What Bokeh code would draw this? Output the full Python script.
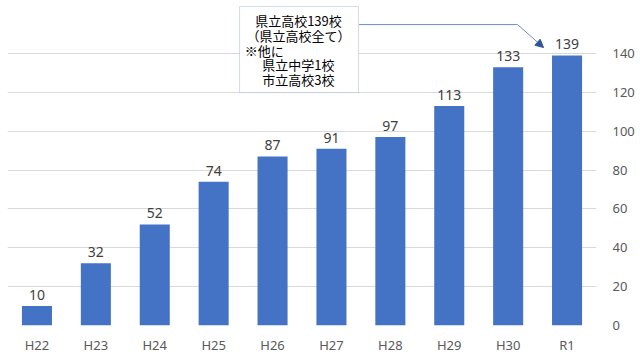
from bokeh.plotting import figure
from bokeh.models import (ColumnDataSource, Range1d, FixedTicker,
                          Label, Arrow, NormalHead, BoxAnnotation)
from bokeh.core.properties import value
from bokeh.embed import file_html
from bokeh.resources import INLINE

categories = ["H22", "H23", "H24", "H25", "H26", "H27", "H28", "H29", "H30", "R1"]
counts = [10, 32, 52, 74, 87, 91, 97, 113, 133, 139]
y_ticks = [0, 20, 40, 60, 80, 100, 120, 140]
note_lines = ["県立高校139校", "（県立高校全て）", "※他に", "県立中学1校", "市立高校3校"]

xs = list(range(len(categories)))
src = ColumnDataSource(dict(x=xs, top=counts, lbl=[str(c) for c in counts]))

p = figure(frame_width=589, frame_height=325, output_backend="svg", toolbar_location=None,
           x_range=Range1d(-0.5, len(categories) - 0.5), y_range=Range1d(0, 167.3),
           y_axis_location="right", min_border_left=7, min_border_top=0,
           min_border_right=0, min_border_bottom=0)
p.outline_line_color = None
p.background_fill_color = "white"
p.border_fill_color = "white"

p.vbar(x="x", top="top", bottom=0, width=0.51, source=src,
       fill_color="#4472C4", line_color=None)
p.text(x="x", y="top", text="lbl", source=src, text_align="center",
       text_baseline="bottom", y_offset=-6, text_font=value("Noto Sans"),
       text_font_size="14px", text_color="#404040")

# axes
xa = p.xaxis[0]
xa.ticker = FixedTicker(ticks=xs)
xa.major_label_overrides = {i: c for i, c in enumerate(categories)}
xa.axis_line_color = None
xa.major_tick_line_color = None
xa.minor_tick_line_color = None
xa.major_tick_out = 0
xa.major_tick_in = 0
xa.minor_tick_out = 0
xa.major_label_standoff = 10
xa.major_label_text_font = "Noto Sans"
xa.major_label_text_font_size = "13px"
xa.major_label_text_color = "#595959"

ya = p.yaxis[0]
ya.ticker = FixedTicker(ticks=y_ticks)
ya.axis_line_color = None
ya.major_tick_line_color = None
ya.minor_tick_line_color = None
ya.major_tick_out = 0
ya.major_tick_in = 0
ya.minor_tick_out = 0
ya.major_label_standoff = 16
ya.major_label_text_font = "Noto Sans"
ya.major_label_text_font_size = "13px"
ya.major_label_text_color = "#595959"

p.xgrid.grid_line_color = None
p.ygrid.ticker = FixedTicker(ticks=y_ticks)
p.ygrid.grid_line_color = "#d9d9d9"

# callout box
box = BoxAnnotation(left=3.44, right=5.46, bottom=119.9, top=164.2,
                    fill_color="white", fill_alpha=1.0,
                    line_color="#6f8cc0", line_width=1)
p.add_layout(box)
line_ys = [157.0, 149.3, 141.5, 134.2, 126.6]
for i, t in enumerate(note_lines):
    if t.startswith("※"):
        lab = Label(x=3.53, y=line_ys[i], text=t, text_align="left",
                    text_baseline="middle")
    else:
        lab = Label(x=4.44, y=line_ys[i], text=t, text_align="center",
                    text_baseline="middle")
    lab.text_font = "Noto Sans CJK JP"
    lab.text_font_size = "13px"
    lab.text_color = "#000000"
    p.add_layout(lab)

p.line(x=[5.47, 8.16], y=[154.9, 154.9], line_color="#6f8cc0", line_width=1)
p.add_layout(Arrow(x_start=8.16, y_start=154.9, x_end=8.60, y_end=143.1,
                   line_color="#6f8cc0", line_width=1,
                   end=NormalHead(size=8, fill_color="#2f5597",
                                  line_color="#2f5597")))

open("out.html", "w").write(file_html(p, INLINE))
